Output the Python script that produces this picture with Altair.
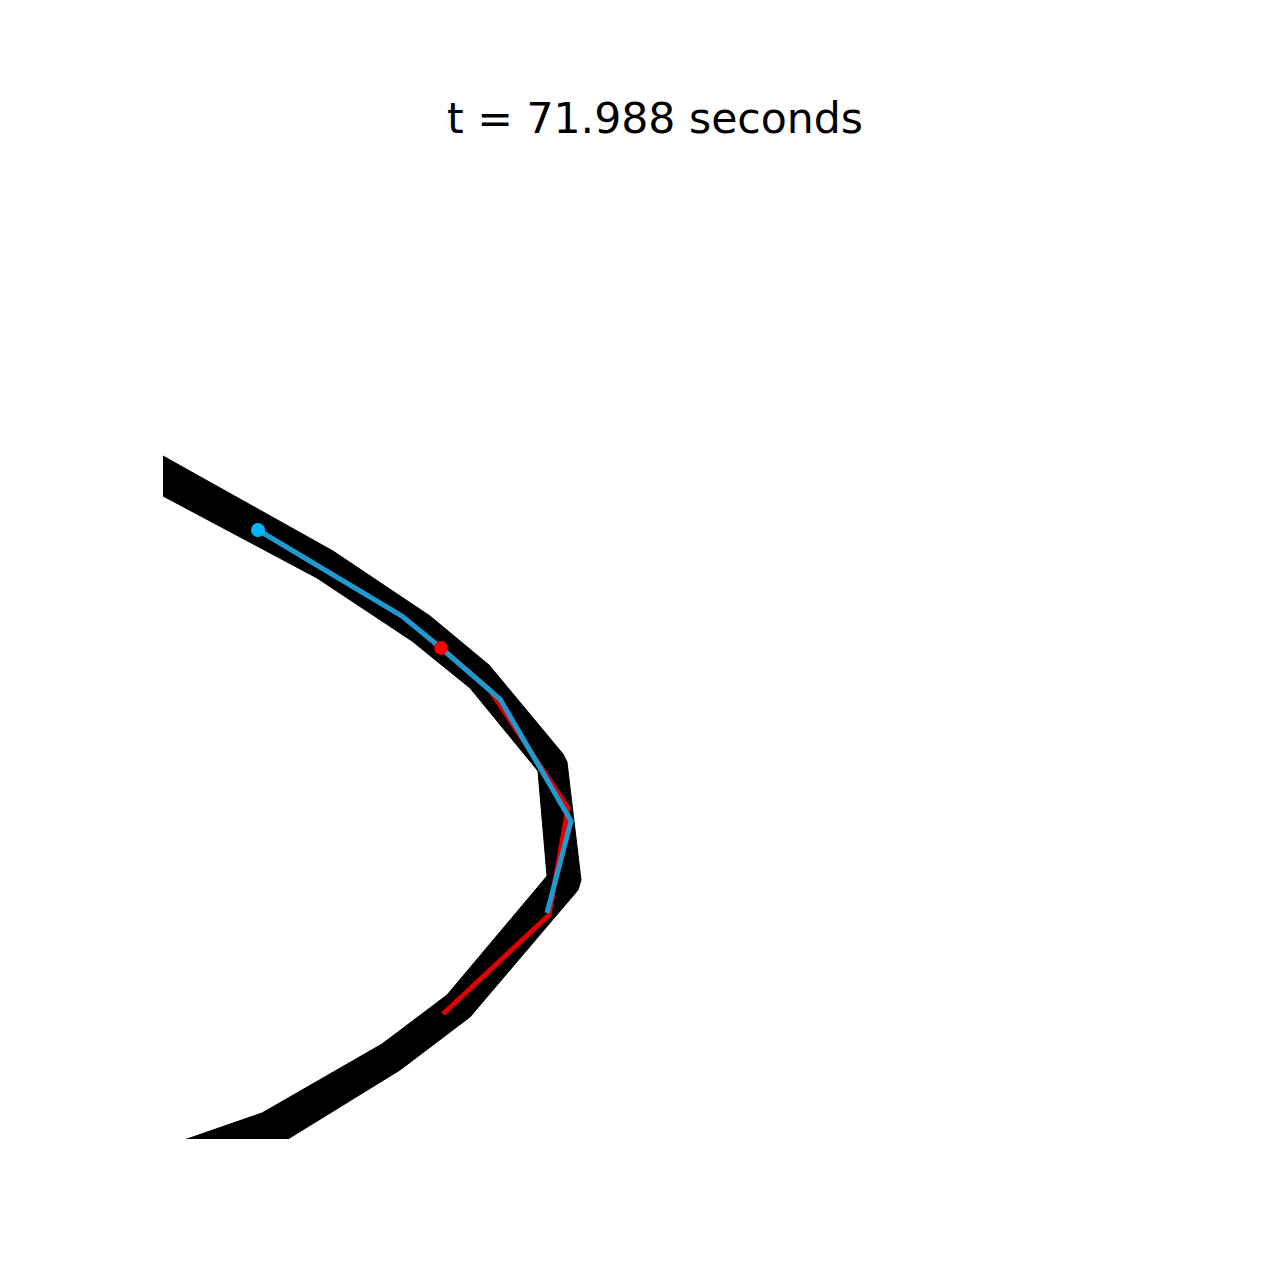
import altair as alt
import pandas as pd

# Track polygon: outer boundary followed by inner boundary (reversed), metres
track_x = [-12.6, 0.0, 34.0, 53.4, 65.2, 80.0, 80.8, 83.6, 83.0, 61.4, 47.4, 25.0, 11.6,
           -18.8, 4.8, 19.8, 43.8, 56.8, 76.8, 75.0, 61.4, 49.8, 30.8, 0.0, -12.6]
track_y = [143.6, 136.6, 117.6, 104.6, 94.8, 77.0, 75.4, 51.8, 49.8, 24.4, 13.8, 0.0, -8.2,
           -8.2, 0.0, 5.2, 19.0, 28.8, 52.6, 73.6, 90.2, 99.6, 112.2, 128.6, 135.4]

# Blue trajectory
blue_x = [19.0, 47.8, 55.6, 67.4, 81.6, 76.8]
blue_y = [121.8, 104.6, 98.2, 88.0, 63.6, 45.2]

# Red trajectory
red_x = [55.6, 65.4, 81.0, 77.2, 56.0]
red_y = [98.2, 89.8, 66.2, 44.8, 25.0]

title_text = "t = 71.988 seconds"

X_DOMAIN = [0, 198]
Y_DOMAIN = [0, 197]

track = pd.DataFrame({"x": track_x, "y": track_y, "i": range(len(track_x))})
blue = pd.DataFrame({"x": blue_x, "y": blue_y, "i": range(len(blue_x))})
red = pd.DataFrame({"x": red_x, "y": red_y, "i": range(len(red_x))})

xs = alt.X("x:Q", scale=alt.Scale(domain=X_DOMAIN, nice=False, zero=False), axis=None)
ys = alt.Y("y:Q", scale=alt.Scale(domain=Y_DOMAIN, nice=False, zero=False), axis=None)

track_layer = alt.Chart(track).mark_line(
    fill="black", stroke="black", strokeWidth=1, clip=True, strokeJoin="miter"
).encode(x=xs, y=ys, order="i:Q")

red_line = alt.Chart(red).mark_line(
    color="#e00000", strokeWidth=5, clip=True
).encode(x=xs, y=ys, order="i:Q")

blue_line = alt.Chart(blue).mark_line(
    color="#1f9ad0", strokeWidth=5, clip=True
).encode(x=xs, y=ys, order="i:Q")

red_dot = alt.Chart(red.iloc[[0]]).mark_point(
    filled=True, color="#ff0000", size=190, opacity=1, clip=True
).encode(x=xs, y=ys)

blue_dot = alt.Chart(blue.iloc[[0]]).mark_point(
    filled=True, color="#00b4f4", size=200, opacity=1, clip=True
).encode(x=xs, y=ys)

chart = alt.layer(track_layer, red_line, blue_line, red_dot, blue_dot).properties(
    width=990,
    height=985,
    title=alt.TitleParams(
        text=title_text, font="DejaVu Sans", fontSize=42.6, fontWeight="normal",
        color="black", anchor="middle", baseline="alphabetic", offset=-22, dx=-3
    ),
    autosize=alt.AutoSizeParams(type="none"),
    padding={"left": 163, "top": 154, "right": 0, "bottom": 0},
    background="white",
).configure_view(stroke=None)

chart.save("out.html", embed_options={"renderer": "svg", "actions": False})
